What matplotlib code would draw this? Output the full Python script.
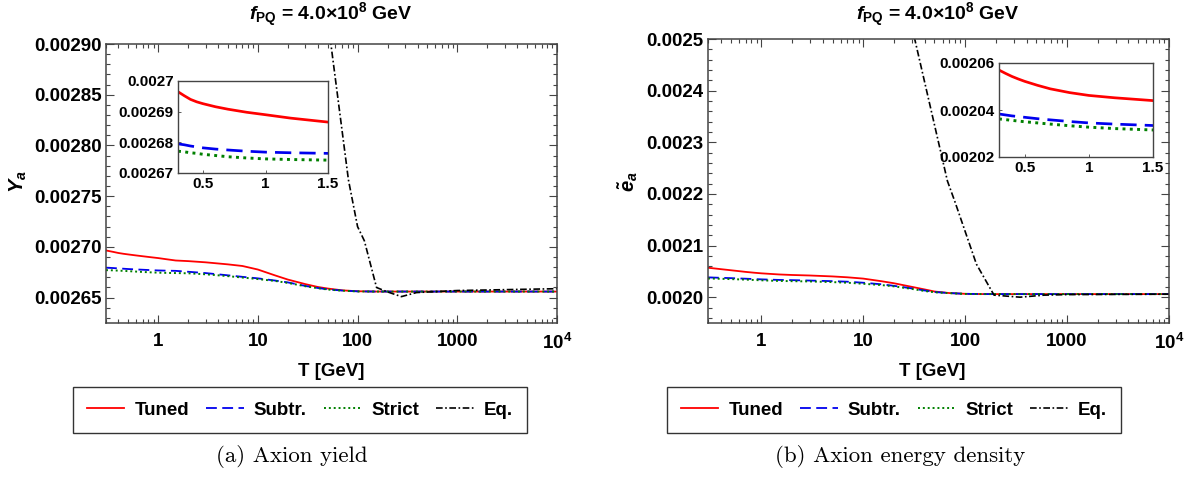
import numpy as np
import matplotlib
matplotlib.use("Agg")
import matplotlib.pyplot as plt
from matplotlib.ticker import FixedLocator, FixedFormatter, FormatStrFormatter, MultipleLocator, LogLocator, NullFormatter

plt.rcParams['font.family'] = ['Liberation Sans', 'DejaVu Sans']
plt.rcParams['font.weight'] = 'bold'
plt.rcParams['mathtext.fontset'] = 'custom'
plt.rcParams['mathtext.rm'] = 'Liberation Sans:bold'
plt.rcParams['mathtext.it'] = 'Liberation Sans:bold:italic'
plt.rcParams['mathtext.bf'] = 'Liberation Sans:bold'

# temperatures (GeV) for the three Boltzmann solutions
T = [0.3, 0.35, 0.4, 0.45, 0.5, 0.6, 0.7, 0.85, 1.0, 1.2, 1.5, 2, 3, 5, 7, 10, 15, 20, 30, 40, 50, 70,
     100, 150, 200, 300, 500, 1000, 3000, 10000]

# (a) axion yield
yield_tuned = [0.0026965, 0.0026952, 0.002694, 0.0026932, 0.0026926, 0.0026916, 0.0026908, 0.0026898,
               0.002689, 0.0026879, 0.0026866, 0.002686, 0.0026848, 0.0026828, 0.0026812, 0.0026777,
               0.0026718, 0.0026678, 0.0026633, 0.0026605, 0.002659, 0.0026572, 0.0026563, 0.002656,
               0.002656, 0.002656, 0.002656, 0.002656, 0.002656, 0.002656]
yield_subtr = [0.0026795, 0.0026792, 0.0026788, 0.0026785, 0.0026782, 0.0026778, 0.0026775, 0.0026771,
               0.0026768, 0.0026766, 0.0026764, 0.0026755, 0.0026742, 0.002672, 0.0026705, 0.002669,
               0.0026668, 0.002665, 0.0026615, 0.0026595, 0.0026582, 0.002657, 0.0026562, 0.002656,
               0.002656, 0.002656, 0.002656, 0.002656, 0.002656, 0.002656]
yield_strict = [0.0026771, 0.0026769, 0.0026766, 0.0026764, 0.0026761, 0.0026757, 0.0026753, 0.0026749,
                0.0026746, 0.0026744, 0.0026742, 0.002674, 0.002673, 0.0026712, 0.0026698, 0.0026683,
                0.0026664, 0.0026645, 0.0026612, 0.0026593, 0.002658, 0.0026569, 0.0026561, 0.002656,
                0.002656, 0.002656, 0.002656, 0.002656, 0.002656, 0.002656]
T_eq_a = [30, 54, 81, 100, 117, 155, 195, 275, 390, 1000, 10000]
yield_eq = [0.00305, 0.0029, 0.002766, 0.00272, 0.002706, 0.00266, 0.002656, 0.002651, 0.002655,
            0.002657, 0.0026588]

# (b) axion energy density
dens_tuned = [0.002057, 0.0020556, 0.0020543, 0.0020532, 0.0020522, 0.0020505, 0.002049, 0.0020474,
              0.0020462, 0.0020452, 0.002044, 0.002043, 0.002042, 0.0020402, 0.0020385, 0.002036, 0.002031,
              0.002027, 0.00202, 0.002015, 0.002011, 0.002008, 0.0020065, 0.002006, 0.002006, 0.002006,
              0.002006, 0.002006, 0.002006, 0.002006]
dens_subtr = [0.0020383, 0.0020379, 0.0020375, 0.0020372, 0.0020369, 0.0020363, 0.0020358, 0.0020351,
              0.0020345, 0.002034, 0.0020334, 0.002033, 0.0020322, 0.002031, 0.00203, 0.002028, 0.002025,
              0.002022, 0.002017, 0.002013, 0.00201, 0.002008, 0.0020065, 0.002006, 0.002006, 0.002006,
              0.002006, 0.002006, 0.002006, 0.002006]
dens_strict = [0.0020362, 0.0020359, 0.0020356, 0.0020353, 0.002035, 0.0020345, 0.002034, 0.0020333,
               0.0020327, 0.0020321, 0.0020315, 0.002031, 0.0020305, 0.0020292, 0.002028, 0.002026,
               0.0020235, 0.002021, 0.002016, 0.002012, 0.0020095, 0.0020078, 0.0020063, 0.002006,
               0.002006, 0.002006, 0.002006, 0.002006, 0.002006, 0.002006]
T_eq_b = [18, 32, 67, 79, 129, 192, 345, 600, 1000, 10000]
dens_eq = [0.00265, 0.0025, 0.002225, 0.002186, 0.002064, 0.002004, 0.002, 0.002004, 0.002005, 0.0020058]

x_ticks = [1, 10, 100, 1000, 10000]
x_labels = ['1', '10', '100', '1000', '10$^{4}$']
inset_x_ticks = [0.5, 1, 1.5]
inset_x_labels = ['0.5', '1', '1.5']

W, H = 1186, 479
fig = plt.figure(figsize=(W / 100, H / 100), dpi=100)

def px_axes(x0, y0, x1, y1):
    # pixel box (left, top, right, bottom) -> figure axes
    return fig.add_axes([x0 / W, 1 - y1 / H, (x1 - x0) / W, (y1 - y0) / H])

frame = '#444444'
styles = [('Tuned', 'red', '-', 1.3), ('Subtr.', '#0000ee', (0, (6, 3)), 1.3),
          ('Strict', '#008000', (0, (1, 1.5)), 1.4), ('Eq.', 'black', (0, (4, 1.5, 1, 1.5)), 1.2)]

def draw(ax, curves, lw_scale=1.0):
    lines = []
    for (name, c, ls, lw), (x, y) in zip(styles, curves):
        ln, = ax.plot(x, y, color=c, linestyle=ls, linewidth=lw * lw_scale, label=name)
        lines.append(ln)
    return lines

def style_main(ax, ylim, major, minor, fmt):
    ax.set_xscale('log')
    ax.set_xlim(0.3, 10000)
    ax.set_ylim(*ylim)
    ax.xaxis.set_major_locator(FixedLocator(x_ticks))
    ax.xaxis.set_major_formatter(FixedFormatter(x_labels))
    ax.xaxis.set_minor_locator(LogLocator(base=10, subs=np.arange(2, 10), numticks=20))
    ax.xaxis.set_minor_formatter(NullFormatter())
    ax.yaxis.set_major_locator(MultipleLocator(major))
    ax.yaxis.set_minor_locator(MultipleLocator(minor))
    ax.yaxis.set_major_formatter(FormatStrFormatter(fmt))
    ax.tick_params(which='both', direction='in', top=True, right=True, color=frame, labelsize=13.5, width=0.8)
    ax.tick_params(which='major', length=6)
    ax.tick_params(which='minor', length=3)
    ax.tick_params(axis='x', pad=7)
    ax.tick_params(axis='y', pad=3)
    for s in ax.spines.values():
        s.set_color(frame)
        s.set_linewidth(1.1)

def style_inset(ax, ylim, yticks, ylabels):
    ax.set_xlim(0.3, 1.5)
    ax.set_ylim(*ylim)
    ax.xaxis.set_major_locator(FixedLocator(inset_x_ticks))
    ax.xaxis.set_major_formatter(FixedFormatter(inset_x_labels))
    ax.yaxis.set_major_locator(FixedLocator(yticks))
    ax.yaxis.set_major_formatter(FixedFormatter(ylabels))
    ax.tick_params(which='both', direction='in', length=2.5, color=frame, labelsize=11, width=0.6, pad=3)
    for s in ax.spines.values():
        s.set_color(frame)
        s.set_linewidth(1.0)

title = r'$f_{\mathrm{PQ}}$ = 4.0×10$^{8}$ GeV'

# ---- panel (a)
axa = px_axes(106, 44, 557, 323)
lines = draw(axa, [(T, yield_tuned), (T, yield_subtr), (T, yield_strict), (T_eq_a, yield_eq)])
style_main(axa, (0.002625, 0.0029), 0.00005, 0.00001, '%.5f')

ia = px_axes(178, 81, 328, 173)
draw(ia, [(T, yield_tuned), (T, yield_subtr), (T, yield_strict), (T_eq_a, yield_eq)], 1.5)
style_inset(ia, (0.00267, 0.0027), [0.00267, 0.00268, 0.00269, 0.0027],
            ['0.00267', '0.00268', '0.00269', '0.0027'])

# ---- panel (b)
axb = px_axes(708, 39, 1169, 323)
draw(axb, [(T, dens_tuned), (T, dens_subtr), (T, dens_strict), (T_eq_b, dens_eq)])
style_main(axb, (0.00195, 0.0025), 0.0001, 0.00002, '%.4f')

ib = px_axes(999, 63, 1153, 157)
draw(ib, [(T, dens_tuned), (T, dens_subtr), (T, dens_strict), (T_eq_b, dens_eq)], 1.5)
style_inset(ib, (0.00202, 0.00206), [0.00202, 0.00204, 0.00206], ['0.00202', '0.00204', '0.00206'])

# titles, axis labels
fig.text(331 / W, 1 - 15 / H, title, ha='center', va='center', fontsize=14, fontweight='bold')
fig.text(938 / W, 1 - 15 / H, title, ha='center', va='center', fontsize=14, fontweight='bold')
fig.text(18 / W, 1 - 182 / H, r'$Y_{a}$', rotation=90, ha='center', va='center', fontsize=14.5)
fig.text(628 / W, 1 - 182 / H, r'$\tilde{e}_{a}$', rotation=90, ha='center', va='center', fontsize=14.5)
fig.text(331 / W, 1 - 372 / H, 'T [GeV]', ha='center', va='center', fontsize=13.5, fontweight='bold')
fig.text(932 / W, 1 - 372 / H, 'T [GeV]', ha='center', va='center', fontsize=13.5, fontweight='bold')

# legends below each panel
for cx in (300 / W, 894 / W):
    leg = fig.legend(handles=lines, loc='center', bbox_to_anchor=(cx, 1 - 410 / H), ncol=4,
                     fontsize=13.5, frameon=True, fancybox=False, edgecolor='black',
                     handlelength=2.0, columnspacing=0.9, handletextpad=0.55, borderpad=0.75,
                     borderaxespad=0)
    leg.get_frame().set_linewidth(1.0)

# sub-captions
fig.text(292 / W, 1 - 456 / H, '(a) Axion yield', ha='center', va='center', fontsize=16.5,
         fontweight='normal', family='cmr10')
fig.text(900 / W, 1 - 456 / H, '(b) Axion energy density', ha='center', va='center', fontsize=16.5,
         fontweight='normal', family='cmr10')

fig.savefig('out.png', dpi=100)
